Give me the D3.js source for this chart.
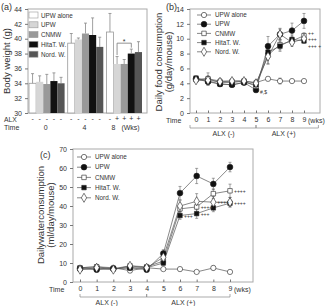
<!DOCTYPE html>
<html>
<head>
<meta charset="utf-8">
<script src="https://cdn.jsdelivr.net/npm/d3@7"></script>
<style>
  body { margin: 0; background: #fff; }
  text { font-family: "Liberation Sans", Arial, sans-serif; fill: #333; }
</style>
</head>
<body>
<div class="container"></div>
<script>
const W = 335, H = 306

// ---- shared ----
const seriesNames = ["UPW alone", "UPW", "CNMW", "HitaT. W.", "Nord. W."]
const weeks = [0, 1, 2, 3, 4, 5, 6, 7, 8, 9]

// ---- (a) body weight ----
const bwTimes = ["0", "4", "8"]
const bwMean = [
  [34.0, 34.2, 33.9, 34.3, 34.0],
  [39.4, 39.9, 40.7, 40.5, 38.9],
  [40.9, 36.6, 36.6, 38.0, 38.2]
]
const bwErr = [
  [1.3, 0.8, 1.3, 1.1, 0.8],
  [1.3, 0.2, 1.4, 2.3, 1.3],
  [2.5, 1.0, 0.6, 0.6, 1.4]
]
const bwAlx = [
  ["-", "-", "-", "-", "-"],
  ["-", "-", "-", "-", "-"],
  ["-", "+", "+", "+", "+"]
]
const bwTicks = [30, 32, 34, 36, 38, 40, 42, 44]

// ---- (b) food ----
const foodMean = [
  [4.5, 4.6, 4.3, 4.3, 4.3, 4.1, 4.6, 4.3, 4.3, 4.3],
  [4.6, 4.2, 3.9, 3.8, 4.1, 3.1, 9.0, 10.6, 11.1, 12.4],
  [4.5, 4.6, 4.1, 4.1, 4.3, 3.6, 7.8, 9.2, 9.7, 10.4],
  [4.7, 4.3, 3.9, 3.8, 4.1, 3.8, 8.2, 9.0, 9.9, 9.7],
  [4.4, 4.4, 4.2, 4.3, 4.3, 4.0, 7.6, 10.6, 9.5, 10.0]
]
const foodErr = [
  [0.2, 0.8, 0.1, 0.2, 0.2, 0.3, 0.2, 0.4, 0.1, 0.1],
  [0.2, 0.5, 0.1, 0.2, 0.2, 0.3, 1.3, 0.8, 1.0, 1.0],
  [0.2, 0.4, 0.2, 0.2, 0.2, 0.3, 1.2, 0.7, 0.5, 0.4],
  [0.2, 0.4, 0.1, 0.2, 0.2, 0.3, 0.8, 0.7, 0.6, 0.3],
  [0.2, 0.3, 0.2, 0.2, 0.2, 0.2, 1.0, 0.7, 0.5, 0.5]
]
const foodTicks = [0, 2, 4, 6, 8, 10, 12, 14]
const foodNotes = [
  { week: 9, value: 10.8, text: "++" },
  { week: 9, value: 9.9, text: "+++" },
  { week: 9, value: 9.0, text: "+++ +" },
  { week: 5, value: 2.8, text: "#,$" }
]
const foodPhases = [
  { label: "ALX (-)", from: -0.5, to: 5, at: 2.3 },
  { label: "ALX (+)", from: 5, to: 10.2, at: 7.3 }
]

// ---- (c) water ----
const waterMean = [
  [7.5, 8.0, 7.5, 6.0, 7.5, 6.8, 6.8, 5.3, 7.4, 5.3],
  [7.0, 6.5, 7.0, 7.5, 6.5, 15.0, 46.8, 55.8, 51.6, 60.5],
  [7.5, 8.0, 7.0, 8.5, 8.0, 11.0, 38.5, 39.5, 46.5, 48.0],
  [7.0, 7.0, 7.0, 7.5, 7.5, 10.0, 35.0, 36.0, 39.0, 41.5],
  [6.5, 7.5, 6.5, 8.5, 7.5, 13.0, 40.0, 42.5, 42.0, 42.0]
]
const waterErr = [
  [0.8, 0.8, 0.6, 0.8, 0.8, 0.6, 0.8, 0.6, 1.2, 0.6],
  [0.8, 0.6, 0.8, 0.8, 0.8, 2.0, 3.5, 4.0, 3.0, 2.5],
  [0.8, 0.8, 0.8, 0.8, 0.8, 1.5, 2.5, 3.0, 2.5, 3.5],
  [0.6, 0.6, 0.6, 0.6, 0.6, 1.2, 2.0, 2.5, 2.0, 2.0],
  [0.8, 0.8, 0.8, 0.8, 0.8, 1.5, 3.0, 4.0, 3.0, 2.5]
]
const waterTicks = [0, 10, 20, 30, 40, 50, 60, 70]
const waterNotes = [
  { week: 6, value: 35.0, text: "+++" },
  { week: 7, value: 36.0, text: "+++" },
  { week: 7, value: 39.5, text: "++++" },
  { week: 8, value: 42.0, text: "++++" },
  { week: 9, value: 48.0, text: "++++" },
  { week: 9, value: 41.5, text: "++++" }
]
const waterPhases = [
  { label: "ALX (-)", from: 0, to: 4, at: 1.6 },
  { label: "ALX (+)", from: 4, to: 9, at: 6.2 }
]

const barFill = ["#ffffff", "#d6d6d6", "#999999", "#111111", "#555555"]
const markers = [
  { type: d3.symbolCircle, fill: "#fff", size: 22 },
  { type: d3.symbolCircle, fill: "#111", size: 26 },
  { type: d3.symbolSquare, fill: "#fff", size: 20 },
  { type: d3.symbolSquare, fill: "#111", size: 20 },
  { type: d3.symbolDiamond, fill: "#fff", size: 24 }
]
const frameCol = "#aaa"

const svg = d3.select(".container").append("svg")
  .attr("width", W).attr("height", H)

function frame(g, x0, x1, y0, y1) {
  g.append("rect").attr("x", x0).attr("y", y0)
    .attr("width", x1 - x0).attr("height", y1 - y0)
    .attr("fill", "none").attr("stroke", frameCol).attr("stroke-width", 1)
}

function yAxis(g, y, x0, ticks) {
  const ax = g.append("g").attr("transform", "translate(" + x0 + ",0)")
    .call(d3.axisLeft(y).tickValues(ticks).tickSize(3).tickPadding(3))
  ax.select(".domain").remove()
  ax.selectAll("line").attr("stroke", "#777")
  ax.selectAll("text").style("font-size", "7px").attr("fill", "#333")
}

// ================= (a) =================
const gA = svg.append("g")
const ya = d3.scaleLinear().domain([30, 44]).range([113, 9])
const xa0 = d3.scaleBand().domain(bwTimes).range([29, 142]).paddingInner(0.08)
const xa1 = d3.scaleBand().domain(d3.range(5)).range([0, xa0.bandwidth()])

frame(gA, 28, 147, 9, 113)
yAxis(gA, ya, 28, bwTicks)

bwTimes.forEach((t, gi) => {
  const grp = gA.append("g").attr("transform", "translate(" + xa0(t) + ",0)")
  grp.selectAll("rect").data(bwMean[gi]).enter().append("rect")
    .attr("x", (d, i) => xa1(i))
    .attr("y", d => ya(d))
    .attr("width", xa1.bandwidth())
    .attr("height", d => ya(30) - ya(d))
    .attr("fill", (d, i) => barFill[i])
    .attr("stroke", (d, i) => i == 0 ? "#999" : "none")
    .attr("stroke-width", 0.8)
  grp.selectAll(".eb").data(bwMean[gi]).enter().append("path")
    .attr("class", "eb")
    .attr("d", (d, i) => {
      const cx = xa1(i) + xa1.bandwidth() / 2
      const top = ya(d + bwErr[gi][i])
      return "M" + cx + "," + ya(d) + "V" + top + "M" + (cx - 1.5) + "," + top + "H" + (cx + 1.5)
    })
    .attr("stroke", "#888").attr("stroke-width", 0.8).attr("fill", "none")
  grp.selectAll(".sg").data(bwAlx[gi]).enter().append("text")
    .attr("x", (d, i) => xa1(i) + xa1.bandwidth() / 2)
    .attr("y", 121)
    .attr("text-anchor", "middle")
    .style("font-size", "7px")
    .text(d => d)
})

// significance bracket between UPW and Hita bars at 8 wks
{
  const g8 = xa0("8")
  const xl = g8 + xa1(1) + xa1.bandwidth() / 2
  const xr = g8 + xa1(3) + xa1.bandwidth() / 2
  const yb = ya(39.4)
  gA.append("path")
    .attr("d", "M" + xl + "," + ya(37.8) + "V" + yb + "H" + xr + "V" + ya(38.8))
    .attr("stroke", "#777").attr("stroke-width", 0.8).attr("fill", "none")
  gA.append("text").attr("x", (xl + xr) / 2).attr("y", yb + 1)
    .attr("text-anchor", "middle").style("font-size", "7px").text("*")
}

// legend a
const legA = gA.append("g")
seriesNames.forEach((s, i) => {
  const yy = 12 + i * 9.8
  legA.append("rect").attr("x", 29).attr("y", yy).attr("width", 9).attr("height", 6)
    .attr("fill", barFill[i]).attr("stroke", "#999").attr("stroke-width", 0.6)
  legA.append("text").attr("x", 41).attr("y", yy + 5.5)
    .style("font-size", "6.3px").text(s)
})

gA.append("text").attr("x", 4).attr("y", 122).style("font-size", "6.8px").text("ALX")
gA.append("text").attr("x", 4).attr("y", 130).style("font-size", "7px").text("Time")
gA.append("text").attr("x", xa0("0") + xa0.bandwidth() / 2 - 1).attr("y", 130)
  .attr("text-anchor", "middle").style("font-size", "7px").text("0")
gA.append("text").attr("x", xa0("4") + xa0.bandwidth() / 2 - 1).attr("y", 130)
  .attr("text-anchor", "middle").style("font-size", "7px").text("4")
gA.append("text").attr("x", xa0("8") + 7).attr("y", 130)
  .attr("text-anchor", "middle").style("font-size", "7px").text("8")
gA.append("text").attr("x", xa0("8") + 15).attr("y", 130)
  .style("font-size", "7px").text("(Wks)")
gA.append("text").attr("transform", "translate(10,61) rotate(-90)")
  .attr("text-anchor", "middle").style("font-size", "9.5px").text("Body weight (g)")
gA.append("text").attr("x", 1).attr("y", 10).style("font-size", "9px").text("(a)")

// ================= line panels =================
function linePanel(opt) {
  const g = svg.append("g")
  const x = d3.scaleLinear().domain([0, 9]).range(opt.xr)
  const y = d3.scaleLinear().domain(opt.yd).range([opt.yb, opt.yt])
  frame(g, opt.fx0, opt.fx1, opt.yt, opt.yb)
  yAxis(g, y, opt.fx0, opt.ticks)

  const ax = g.append("g").attr("transform", "translate(0," + opt.yb + ")")
    .call(d3.axisBottom(x).tickValues(weeks).tickSize(-2.5).tickPadding(4))
  ax.select(".domain").remove()
  ax.selectAll("line").attr("stroke", "#777")
  ax.selectAll("text").style("font-size", "7px").attr("fill", "#333")
  g.append("text").attr("x", opt.fx0 - 24).attr("y", opt.yb + 9.5)
    .style("font-size", "7px").text("Time")
  g.append("text").attr("x", x(9) + 4).attr("y", opt.yb + 9.5)
    .style("font-size", "7px").text("(wks)")

  // ALX phase brackets
  const by = opt.yb + 15
  opt.phases.forEach((p, i) => {
    g.append("path")
      .attr("d", "M" + x(p.from) + "," + (by - 3) + "V" + by + "H" + x(p.to) + "V" + (by - 3))
      .attr("stroke", "#888").attr("stroke-width", 0.7).attr("fill", "none")
    g.append("text").attr("x", x(p.at)).attr("y", by + 8)
      .attr("text-anchor", "middle").style("font-size", "7px").text(p.label)
  })

  const line = d3.line().x((d, i) => x(weeks[i])).y(d => y(d))
  opt.mean.forEach((vals, si) => {
    g.append("path").attr("d", line(vals))
      .attr("fill", "none").attr("stroke", "#555").attr("stroke-width", 0.7)
  })
  opt.mean.forEach((vals, si) => {
    g.selectAll(null).data(vals).enter().append("path")
      .attr("d", (d, i) => {
        const cx = x(weeks[i]), e = opt.err[si][i]
        const t = y(d + e), b = y(d - e)
        return "M" + cx + "," + t + "V" + b + "M" + (cx - 1.5) + "," + t + "H" + (cx + 1.5) +
          "M" + (cx - 1.5) + "," + b + "H" + (cx + 1.5)
      })
      .attr("stroke", "#666").attr("stroke-width", 0.6).attr("fill", "none")
  })
  opt.mean.forEach((vals, si) => {
    const m = markers[si]
    g.selectAll(null).data(vals).enter().append("path")
      .attr("transform", (d, i) => "translate(" + x(weeks[i]) + "," + y(d) + ")")
      .attr("d", d3.symbol().type(m.type).size(m.size))
      .attr("fill", m.fill).attr("stroke", "#222").attr("stroke-width", 0.6)
  })
  opt.notes.forEach(n => {
    g.append("text").attr("x", x(n.week) + 4).attr("y", y(n.value) + 2)
      .style("font-size", opt.noteSize).text(n.text)
  })

  // legend
  seriesNames.forEach((s, i) => {
    const yy = opt.legY + i * opt.legStep
    const lx = opt.legX
    g.append("line").attr("x1", lx).attr("x2", lx + 14).attr("y1", yy).attr("y2", yy)
      .attr("stroke", "#555").attr("stroke-width", 0.7)
    const m = markers[i]
    g.append("path").attr("transform", "translate(" + (lx + 7) + "," + yy + ")")
      .attr("d", d3.symbol().type(m.type).size(m.size))
      .attr("fill", m.fill).attr("stroke", "#222").attr("stroke-width", 0.6)
    g.append("text").attr("x", lx + 18).attr("y", yy + 2.2)
      .style("font-size", "6.3px").text(s)
  })

  g.append("text").attr("transform", "translate(" + opt.lab1x + "," + opt.labY + ") rotate(-90)")
    .attr("text-anchor", "middle").style("font-size", "9.5px").text(opt.lab1)
  g.append("text").attr("transform", "translate(" + opt.lab2x + "," + opt.labY + ") rotate(-90)")
    .attr("text-anchor", "middle").style("font-size", "9.5px").text(opt.lab2)
  g.append("text").attr("x", opt.tagX).attr("y", opt.tagY).style("font-size", "9px").text(opt.tag)
}

linePanel({
  xr: [196, 304], yd: [0, 14], yt: 9, yb: 113, fx0: 190, fx1: 320,
  ticks: foodTicks, mean: foodMean, err: foodErr, notes: foodNotes, noteSize: "5px",
  phases: foodPhases, legX: 197, legY: 15, legStep: 9.2,
  lab1: "Daily food consumption", lab2: "(g/day/mouse)", lab1x: 162, lab2x: 172, labY: 62,
  tag: "(b)", tagX: 166, tagY: 10
})

linePanel({
  xr: [80, 230], yd: [0, 70], yt: 149, yb: 282, fx0: 73, fx1: 253,
  ticks: waterTicks, mean: waterMean, err: waterErr, notes: waterNotes, noteSize: "5px",
  phases: waterPhases, legX: 77, legY: 157, legStep: 10.2,
  lab1: "Dailywaterconsumption", lab2: "(ml/day/mouse)", lab1x: 44, lab2x: 54, labY: 215,
  tag: "(c)", tagX: 40, tagY: 158
})
</script>
</body>
</html>
